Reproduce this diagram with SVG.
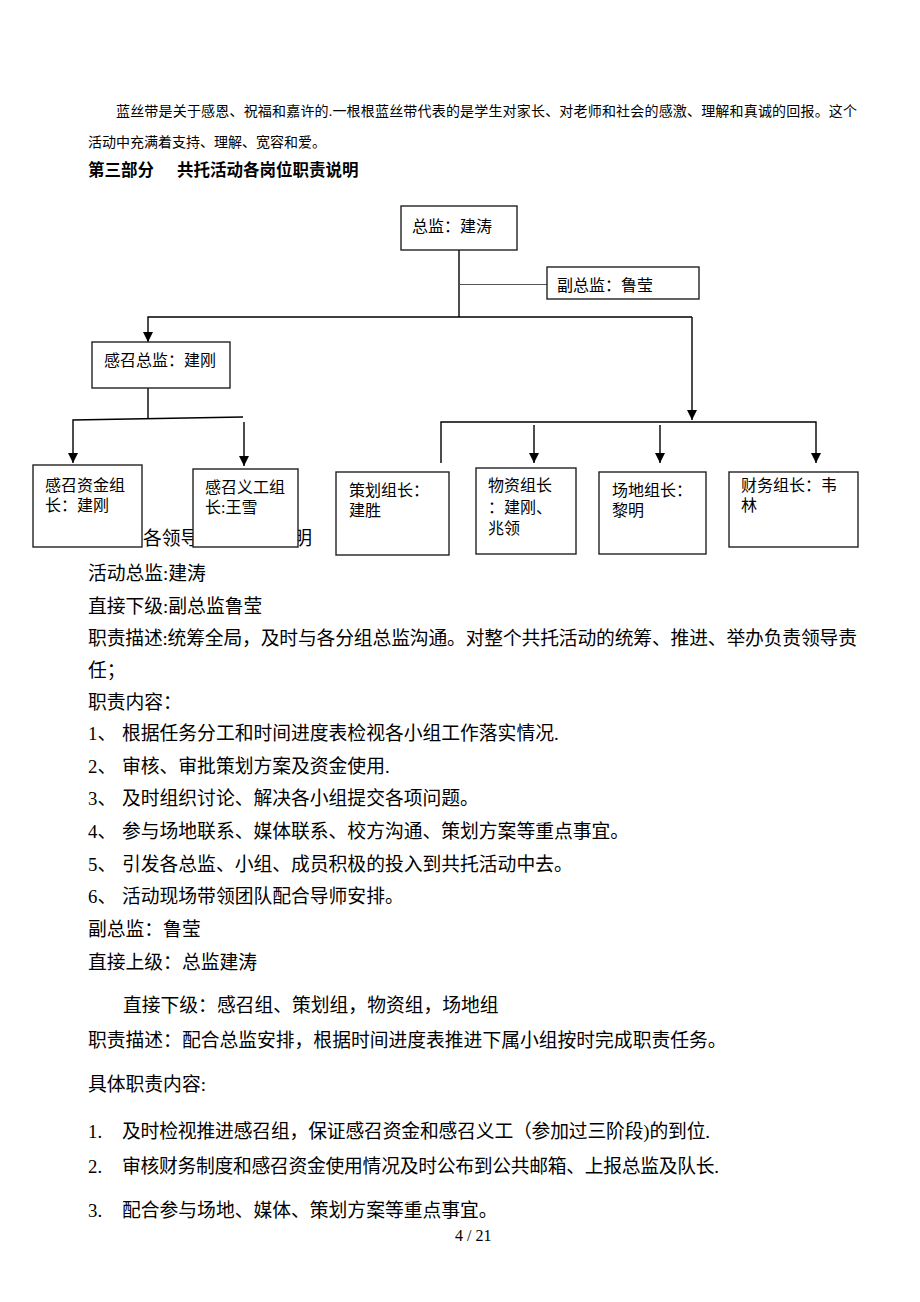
<svg xmlns="http://www.w3.org/2000/svg" width="920" height="1302" viewBox="0 0 920 1302">
<style>
.t{font-family:"Liberation Serif","Noto Sans CJK SC",serif;fill:#000}
.p{font-size:14px}
.h{font-size:16.5px;font-weight:bold}
.b{font-size:18.8px}
.n{font-size:16px}
.box{fill:#fff;stroke:#222;stroke-width:1.4}
.ln{fill:none;stroke:#000;stroke-width:1.4}
.ar{fill:none;stroke:#000;stroke-width:1.4;marker-end:url(#ah)}
</style>
<defs>
<marker id="ah" markerUnits="userSpaceOnUse" markerWidth="12" markerHeight="12" refX="10" refY="5" orient="auto">
<path d="M0,0 L10,5 L0,10 Z" fill="#000"/>
</marker>
</defs>
<rect width="920" height="1302" fill="#fff"/>

<g id="intro" class="t">
<text class="p" x="116" y="116" textLength="741" lengthAdjust="spacing">蓝丝带是关于感恩、祝福和嘉许的.一根根蓝丝带代表的是学生对家长、对老师和社会的感激、理解和真诚的回报。这个</text>
<text class="p" x="88" y="147">活动中充满着支持、理解、宽容和爱。</text>
<text class="h" x="88" y="176">第三部分</text>
<text class="h" x="177" y="176">共托活动各岗位职责说明</text>
</g>

<g id="section-title" class="t">
<text class="b" x="143" y="545">各领导岗位职责说明</text>
</g>

<g id="connectors">
<line class="ln" x1="459" y1="250" x2="459" y2="317"/>
<line x1="459" y1="284.5" x2="547" y2="284.5" stroke="#555" stroke-width="1.2"/>
<polyline class="ar" points="692,317 148,317 148,342"/>
<line class="ar" x1="692" y1="317" x2="692" y2="420"/>
<line class="ln" x1="148" y1="388" x2="148" y2="419"/>
<polyline class="ar" points="243,417 73,420 73,463"/>
<line class="ar" x1="244" y1="422" x2="244" y2="466"/>
<polyline class="ar" points="441,463 441,422 816,422 816,463"/>
<line class="ar" x1="534" y1="425" x2="534" y2="463"/>
<line class="ar" x1="660" y1="425" x2="660" y2="463"/>
</g>

<g id="n-zongjian" class="t"><rect class="box" x="401" y="206" width="116" height="44"/><text class="n" x="412" y="232">总监：建涛</text></g>
<g id="n-fuzongjian" class="t"><rect class="box" x="547" y="267" width="152" height="32"/><text class="n" x="557" y="291">副总监：鲁莹</text></g>
<g id="n-ganzhao" class="t"><rect class="box" x="92" y="342" width="138" height="46"/><text class="n" x="104" y="366">感召总监：建刚</text></g>
<g id="n-zijin" class="t"><rect class="box" x="33" y="465" width="109" height="82"/><text class="n" x="45" y="491">感召资金组</text><text class="n" x="45" y="511">长：建刚</text></g>
<g id="n-yigong" class="t"><rect class="box" x="193" y="469" width="105" height="78"/><text class="n" x="205" y="493">感召义工组</text><text class="n" x="205" y="513">长:王雪</text></g>
<g id="n-cehua" class="t"><rect class="box" x="336" y="472" width="113" height="83"/><text class="n" x="349" y="496">策划组长：</text><text class="n" x="349" y="516">建胜</text></g>
<g id="n-wuzi" class="t"><rect class="box" x="476" y="468" width="100" height="86"/><text class="n" x="488" y="491">物资组长</text><text class="n" x="488" y="513">：建刚、</text><text class="n" x="488" y="534">兆领</text></g>
<g id="n-changdi" class="t"><rect class="box" x="599" y="472" width="107" height="82"/><text class="n" x="612" y="496">场地组长：</text><text class="n" x="612" y="516">黎明</text></g>
<g id="n-caiwu" class="t"><rect class="box" x="729" y="472" width="129" height="75"/><text class="n" x="741" y="491">财务组长：韦</text><text class="n" x="741" y="511">林</text></g>

<g id="body" class="t b">
<text x="88" y="580">活动总监:建涛</text>
<text x="88" y="613">直接下级:副总监鲁莹</text>
<text x="88" y="645" textLength="769" lengthAdjust="spacing">职责描述:统筹全局，及时与各分组总监沟通。对整个共托活动的统筹、推进、举办负责领导责</text>
<text x="88" y="677">任；</text>
<text x="88" y="709">职责内容：</text>
<text x="88" y="740">1、</text><text x="122" y="740">根据任务分工和时间进度表检视各小组工作落实情况.</text>
<text x="88" y="773">2、</text><text x="122" y="773">审核、审批策划方案及资金使用.</text>
<text x="88" y="805">3、</text><text x="122" y="805">及时组织讨论、解决各小组提交各项问题。</text>
<text x="88" y="838">4、</text><text x="122" y="838">参与场地联系、媒体联系、校方沟通、策划方案等重点事宜。</text>
<text x="88" y="871">5、</text><text x="122" y="871">引发各总监、小组、成员积极的投入到共托活动中去。</text>
<text x="88" y="903">6、</text><text x="122" y="903">活动现场带领团队配合导师安排。</text>
<text x="88" y="936">副总监：鲁莹</text>
<text x="88" y="969">直接上级：总监建涛</text>
<text x="123" y="1012">直接下级：感召组、策划组，物资组，场地组</text>
<text x="88" y="1047">职责描述：配合总监安排，根据时间进度表推进下属小组按时完成职责任务。</text>
<text x="88" y="1091">具体职责内容:</text>
<text x="88" y="1138">1.</text><text x="122" y="1138" textLength="588" lengthAdjust="spacing">及时检视推进感召组，保证感召资金和感召义工（参加过三阶段)的到位.</text>
<text x="88" y="1173">2.</text><text x="122" y="1173" textLength="597" lengthAdjust="spacing">审核财务制度和感召资金使用情况及时公布到公共邮箱、上报总监及队长.</text>
<text x="88" y="1217">3.</text><text x="122" y="1217">配合参与场地、媒体、策划方案等重点事宜。</text>
</g>
<g id="footer" class="t"><text x="455" y="1241" font-size="16">4 / 21</text></g>
</svg>
